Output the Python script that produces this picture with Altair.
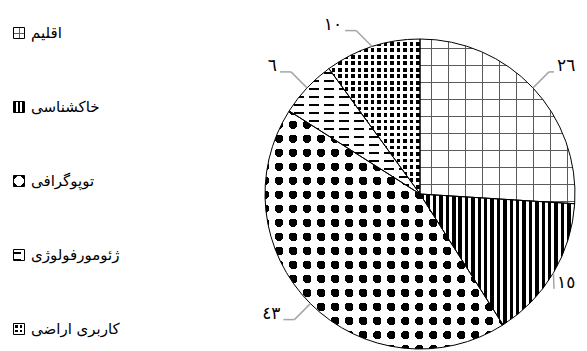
import math
import altair as alt
import pandas as pd

# ---------------- data ----------------
categories = ["اقلیم", "خاکشناسی", "توپوگرافی", "ژئومورفولوژی", "کاربری اراضی"]
values = [26, 15, 43, 6, 10]

AR_DIGITS = str.maketrans("0123456789", "٠١٢٣٤٥٦٧٨٩")
labels = [str(v).translate(AR_DIGITS) for v in values]

df = pd.DataFrame({"cat": categories, "value": values, "label": labels,
                   "order": list(range(len(categories)))})
total = sum(values)

# ---------------- layout / style ----------------
W, H = 571, 343
CX, CY, R = 412, 186, 155
FONT = "DejaVu Sans"
BLACK, WHITE, CLEAR = "#000000", "#ffffff", "rgba(255,255,255,0)"
GRID = "#5a5a5a"
HD, VD, D1, D2 = (0, 0, 1, 0), (0, 0, 0, 1), (0, 0, 1, 1), (1, 0, 0, 1)


def stripes(length, period, width, phase, on, off):
    stops = []
    k = math.floor(-phase / period) - 1
    while True:
        s = phase + k * period
        e = s + width
        k += 1
        if s >= length:
            break
        if e <= 0:
            continue
        s0 = round(max(s, 0) / length, 5)
        e0 = round(min(e, length) / length, 5)
        stops += [{"offset": s0, "color": off}, {"offset": s0, "color": on},
                  {"offset": e0, "color": on}, {"offset": e0, "color": off}]
    return stops


def lin(stops, d):
    x1, y1, x2, y2 = d
    return {"gradient": "linear", "x1": x1, "y1": y1, "x2": x2, "y2": y2, "stops": stops}


def pat_grid(w, h, p, phx, phy, lw):
    return [lin(stripes(w, p, lw, phx, GRID, WHITE), HD),
            lin(stripes(h, p, lw, phy, GRID, CLEAR), VD)]


def pat_vstripes(w, h, p, bw):
    return [lin(stripes(w, p, bw, 0, BLACK, WHITE), HD)]


def pat_diamonds(w, h, p, delta, axis_frac):
    L = (w + h) / 2
    n = max(1, round(L / p))
    p = L / n
    aw, aph = axis_frac * p, (0.5 - axis_frac / 2) * p
    pd_ = p / math.sqrt(2)
    dw, dph, ld = (1 - 2 * delta) * pd_, delta * pd_, L * math.sqrt(2)
    return [lin(stripes(w, p, aw, aph, WHITE, BLACK), HD),
            lin(stripes(h, p, aw, aph, WHITE, CLEAR), VD),
            lin(stripes(ld, pd_, dw, dph, WHITE, CLEAR), D1),
            lin(stripes(ld, pd_, dw, dph, WHITE, CLEAR), D2)]


def pat_dashes(w, h, prow, th, phr, pcol, gap, phc):
    return [lin(stripes(h, prow, th, phr, BLACK, WHITE), VD),
            lin(stripes(w, pcol, gap, phc, WHITE, CLEAR), HD)]


def pat_dots(w, h, p, wf):
    return [lin(stripes(w, p, wf * p, 0, WHITE, BLACK), HD),
            lin(stripes(h, p, wf * p, 0, WHITE, CLEAR), VD)]


def wedge_bbox(a0, a1, r):
    pts = [(0.0, 0.0), (r * math.sin(a0), -r * math.cos(a0)), (r * math.sin(a1), -r * math.cos(a1))]
    k = math.ceil(a0 / (math.pi / 2))
    while k * math.pi / 2 < a1:
        a = k * math.pi / 2
        pts.append((r * math.sin(a), -r * math.cos(a)))
        k += 1
    xs = [p[0] for p in pts]
    ys = [p[1] for p in pts]
    return max(xs) - min(xs), max(ys) - min(ys)


pie_patterns = {
    "اقلیم": lambda w, h: pat_grid(w, h, 17, 11, 9, 1),
    "خاکشناسی": lambda w, h: pat_vstripes(w, h, 6.4, 3.5),
    "توپوگرافی": lambda w, h: pat_diamonds(w, h, 14, 0.43, 0.38),
    "ژئومورفولوژی": lambda w, h: pat_dashes(w, h, 8, 2, 3, 15, 5, 0),
    "کاربری اراضی": lambda w, h: pat_dots(w, h, 6.5, 0.42),
}
icon_patterns = {
    "اقلیم": lambda w, h: pat_grid(w, h, 11, 5, 5, 1.2),
    "خاکشناسی": lambda w, h: pat_vstripes(w, h, 4.5, 2.5),
    "توپوگرافی": lambda w, h: pat_diamonds(w, h, 11, 0.43, 0.38),
    "ژئومورفولوژی": lambda w, h: pat_dashes(w, h, 8, 2, 2, 15, 5, 8),
    "کاربری اراضی": lambda w, h: pat_dots(w, h, 4.5, 0.42),
}

theta_scale = alt.Scale(domain=[0, total])
base = alt.Chart(df).transform_window(
    cum="sum(value)", sort=[alt.SortField("order")], frame=[None, 0]
).transform_calculate(start="datum.cum - datum.value")

arc_enc = dict(theta=alt.Theta("start:Q", scale=theta_scale, stack=None),
               theta2="cum:Q", x=alt.value(CX), y=alt.value(CY))

layers = []
cum = 0
for cat, v in zip(categories, values):
    a0 = 2 * math.pi * cum / total
    a1 = 2 * math.pi * (cum + v) / total
    cum += v
    bw, bh = wedge_bbox(a0, a1, R)
    for f in pie_patterns[cat](bw, bh):
        layers.append(base.transform_filter(alt.datum.cat == cat)
                      .mark_arc(radius=R, fill=f, strokeWidth=0).encode(**arc_enc))

layers.append(base.mark_arc(radius=R, fill=WHITE, fillOpacity=0, stroke=BLACK,
                            strokeWidth=1).encode(**arc_enc))

# ---------------- leader lines & labels ----------------
BEND, HOR, XMAX = 16, 11, 546
lead = base.transform_calculate(
    a=f"2*PI*(datum.start + datum.value/2)/{total}",
    sx="sin(datum.a) >= 0 ? 1 : -1",
    sy="cos(datum.a) >= 0 ? 1 : -1",
    ex=f"{CX} + {R}*sin(datum.a)",
    ey=f"{CY} - {R}*cos(datum.a)",
    hx0=f"datum.ex + datum.sx*{BEND + HOR}",
    hx=f"datum.sx > 0 ? min(datum.hx0, {XMAX}) : datum.hx0",
    bx=f"datum.sx > 0 ? min(datum.ex + {BEND}, datum.hx) : datum.ex - {BEND}",
    by=f"datum.ey - datum.sy*{BEND}",
    tx="datum.hx + datum.sx*3",
)
LC = "#a6a6a6"
layers.append(lead.mark_rule(color=LC, strokeWidth=1.5).encode(
    x=alt.X("ex:Q", scale=None, axis=None), y=alt.Y("ey:Q", scale=None, axis=None),
    x2="bx:Q", y2="by:Q"))
layers.append(lead.mark_rule(color=LC, strokeWidth=1.5).encode(
    x=alt.X("bx:Q", scale=None, axis=None), y=alt.Y("by:Q", scale=None, axis=None),
    x2="hx:Q", y2="by:Q"))
for cond, align in (("datum.sx > 0", "left"), ("datum.sx < 0", "right")):
    layers.append(lead.transform_filter(cond).mark_text(
        align=align, baseline="middle", dy=-6, fontSize=17, font=FONT, color=BLACK
    ).encode(x=alt.X("tx:Q", scale=None, axis=None),
             y=alt.Y("by:Q", scale=None, axis=None), text="label:N"))

# ---------------- legend ----------------
Y_LEG = alt.Y("cat:N", sort=categories, axis=None,
              scale=alt.Scale(type="point", domain=categories, range=[25, 321], padding=0))
ICON = 11
for cat in categories:
    for f in icon_patterns[cat](ICON, ICON):
        layers.append(alt.Chart(df).transform_filter(alt.datum.cat == cat)
                      .mark_square(size=ICON * ICON, fill=f, strokeWidth=0, opacity=1)
                      .encode(x=alt.value(11), y=Y_LEG))
layers.append(alt.Chart(df).mark_square(size=ICON * ICON, fill=WHITE, fillOpacity=0,
                                        stroke=BLACK, strokeWidth=1)
              .encode(x=alt.value(11), y=Y_LEG))
layers.append(alt.Chart(df).mark_text(align="left", baseline="middle", fontSize=15,
                                      font=FONT, color=BLACK)
              .encode(x=alt.value(23), y=Y_LEG, text="cat:N"))

chart = alt.layer(*layers).properties(
    width=W, height=H, padding=0, autosize="none"
).configure_view(stroke=None)

chart.save("out.html", embed_options={"renderer": "svg", "actions": False})
